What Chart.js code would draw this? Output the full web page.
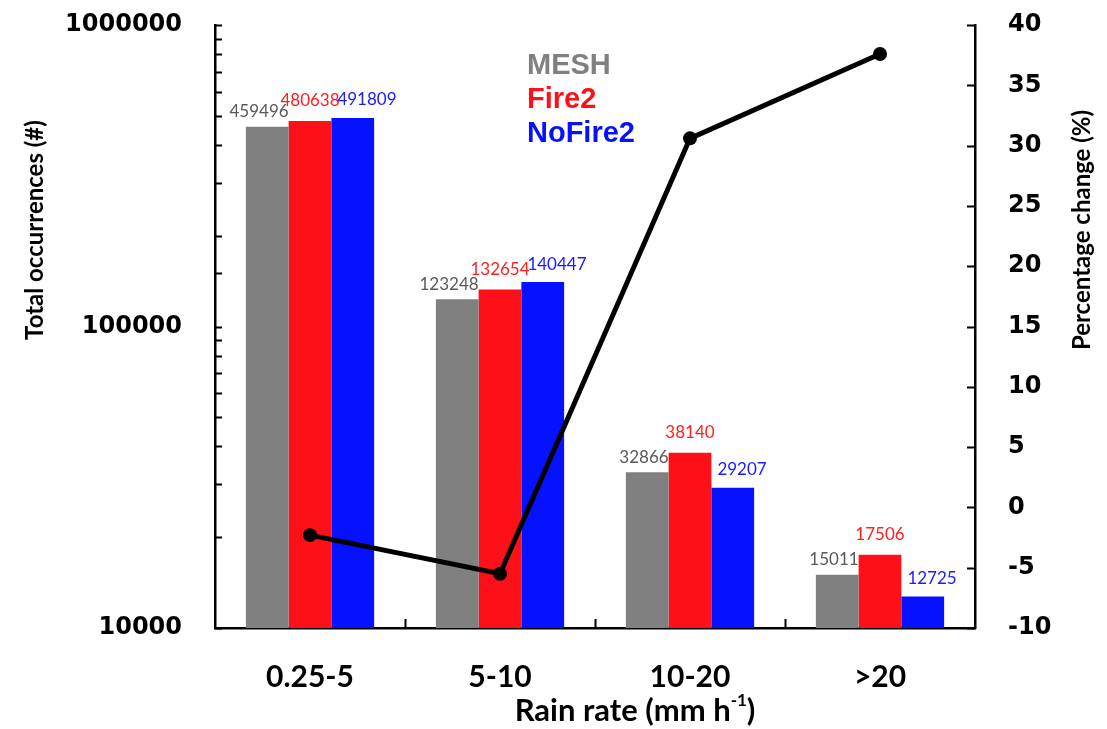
<!DOCTYPE html>
<html>
<head>
<meta charset="utf-8">
<title>Total occurrences by rain rate</title>
<script src="https://cdn.jsdelivr.net/npm/chart.js@4/dist/chart.umd.min.js"></script>
<style>
  body { margin: 0; background: #fff; }
  #wrap { width: 1107px; height: 729px; position: relative; }
</style>
</head>
<body>
<div id="wrap"><canvas id="rainChart"></canvas></div>
<script>
// ===== DATA =====
const categories = ['0.25-5', '5-10', '10-20', '>20'];
const meshValues = [459496, 123248, 32866, 15011];
const fire2Values = [480638, 132654, 38140, 17506];
const noFire2Values = [491809, 140447, 29207, 12725];
const changeValues = [-2.3, -5.5, 30.6, 37.6];
const leftMajorTicks = [10000, 100000, 1000000];

const barColors = ['#808080', '#fe1018', '#0612ff'];
const labelColors = ['#595959', '#ff1f1f', '#1a1aff'];
const labelAlign = ['right', 'center', 'left'];
const labelLift = [15, 20, 18];

// draws the short inward tick marks, data labels, titles and the text legend
const extras = {
  id: 'extras',
  afterDatasetsDraw(chart) {
    const ctx = chart.ctx;
    ctx.save();
    ctx.font = '17px Lato';
    ctx.textBaseline = 'middle';
    chart.data.datasets.forEach((ds, di) => {
      if (ds.type === 'line') return;
      const meta = chart.getDatasetMeta(di);
      const k = ds.barIndex;
      meta.data.forEach((el, i) => {
        const half = el.width / 2;
        let x = el.x;
        if (labelAlign[k] === 'right') x = el.x + half;
        if (labelAlign[k] === 'left') x = el.x - half + 6;
        ctx.fillStyle = labelColors[k];
        ctx.textAlign = labelAlign[k];
        ctx.fillText(String(ds.data[i]), x, el.y - labelLift[k]);
      });
    });
    ctx.restore();
  },
  afterDraw(chart) {
    const ctx = chart.ctx;
    const area = chart.chartArea;
    const y = chart.scales.y, y1 = chart.scales.y1, x = chart.scales.x;
    ctx.save();
    ctx.strokeStyle = '#000';
    ctx.lineWidth = 2;
    ctx.beginPath();
    // left log axis: every tick inward
    y.ticks.forEach(t => {
      const py = Math.round(y.getPixelForValue(t.value)) + 0.5;
      ctx.moveTo(area.left, py);
      ctx.lineTo(area.left + 7, py);
    });
    // right axis
    y1.ticks.forEach(t => {
      const py = Math.round(y1.getPixelForValue(t.value)) + 0.5;
      ctx.moveTo(area.right, py);
      ctx.lineTo(area.right - 8, py);
    });
    // bottom: between categories
    for (let i = 0; i < categories.length - 1; i++) {
      const px = Math.round((x.getPixelForValue(i) + x.getPixelForValue(i + 1)) / 2) + 0.5;
      ctx.moveTo(px, area.bottom);
      ctx.lineTo(px, area.bottom - 9);
    }
    ctx.stroke();

    // axis titles
    ctx.fillStyle = '#000';
    ctx.font = 'bold 24px Lato';
    ctx.textAlign = 'center';
    ctx.textBaseline = 'middle';
    ctx.save();
    ctx.translate(35, 230);
    ctx.rotate(-Math.PI / 2);
    ctx.fillText('Total occurrences (#)', 0, 0);
    ctx.restore();
    ctx.save();
    ctx.translate(1082, 230);
    ctx.rotate(-Math.PI / 2);
    ctx.fillText('Percentage change (%)', 0, 0);
    ctx.restore();

    // x title with superscript
    const main = 'Rain rate (mm h';
    const sup = '-1';
    const tail = ')';
    ctx.font = 'bold 31px Lato';
    const w1 = ctx.measureText(main).width;
    const w3 = ctx.measureText(tail).width;
    ctx.font = 'bold 17px Lato';
    const w2 = ctx.measureText(sup).width;
    let tx = 635 - (w1 + w2 + w3) / 2;
    ctx.textAlign = 'left';
    ctx.font = 'bold 31px Lato';
    ctx.fillText(main, tx, 711);
    ctx.font = 'bold 17px Lato';
    ctx.fillText(sup, tx + w1, 701);
    ctx.font = 'bold 31px Lato';
    ctx.fillText(tail, tx + w1 + w2, 711);

    // legend (text only)
    ctx.font = 'bold 29px "Liberation Sans"';
    ctx.textAlign = 'left';
    chart.data.datasets.forEach(ds => {
      if (ds.type === 'line') return;
      ctx.fillStyle = barColors[ds.barIndex];
      ctx.fillText(ds.label, 527, 66 + ds.barIndex * 34);
    });
    ctx.restore();
  }
};

const barSets = [
  ['MESH', meshValues],
  ['Fire2', fire2Values],
  ['NoFire2', noFire2Values]
].map((d, k) => ({
  type: 'bar',
  label: d[0],
  data: d[1],
  barIndex: k,
  yAxisID: 'y',
  backgroundColor: barColors[k],
  borderWidth: 0,
  barPercentage: 1.0,
  categoryPercentage: 0.675,
  order: 2
}));

const lineSet = {
  type: 'line',
  label: 'Percentage change',
  data: changeValues,
  yAxisID: 'y1',
  borderColor: '#000',
  backgroundColor: '#000',
  borderWidth: 5,
  pointRadius: 7,
  pointBackgroundColor: '#000',
  pointBorderWidth: 0,
  tension: 0,
  order: 0
};

// fixed box sizes; drop the label overhang padding so the plot top sits at the layout padding
function fixVertical(width) {
  return s => {
    s.width = width;
    s.paddingTop = 0;
    s.paddingBottom = 0;
  };
}

new Chart(document.getElementById('rainChart'), {
  data: {
    labels: categories,
    datasets: [lineSet].concat(barSets)
  },
  options: {
    responsive: true,
    maintainAspectRatio: false,
    animation: false,
    layout: { padding: { top: 25, left: 0, right: 0, bottom: 0 } },
    plugins: {
      legend: { display: false },
      tooltip: { enabled: false }
    },
    scales: {
      x: {
        grid: { display: false, drawTicks: false },
        border: { display: true, color: '#000', width: 2.5 },
        ticks: {
          color: '#000',
          font: { family: 'Lato', size: 30, weight: 'bold' },
          padding: 31,
          maxRotation: 0
        },
        afterFit: s => {
          s.height = 101;
          s.paddingLeft = 0;
          s.paddingRight = 0;
        }
      },
      y: {
        type: 'logarithmic',
        position: 'left',
        min: 10000,
        max: 1000000,
        grid: { display: false, drawTicks: false },
        border: { display: true, color: '#000', width: 2.5 },
        ticks: {
          color: '#000',
          autoSkip: false,
          padding: 33,
          font: { family: 'DejaVu Sans', size: 24, weight: 'bold' },
          callback: v => leftMajorTicks.includes(v) ? String(v) : ''
        },
        afterFit: fixVertical(215)
      },
      y1: {
        type: 'linear',
        position: 'right',
        min: -10,
        max: 40,
        grid: { display: false, drawTicks: false },
        border: { display: true, color: '#000', width: 2.5 },
        ticks: {
          color: '#000',
          stepSize: 5,
          padding: 33,
          font: { family: 'DejaVu Sans', size: 24, weight: 'bold' }
        },
        afterFit: fixVertical(132)
      }
    }
  },
  plugins: [extras]
});
</script>
</body>
</html>
